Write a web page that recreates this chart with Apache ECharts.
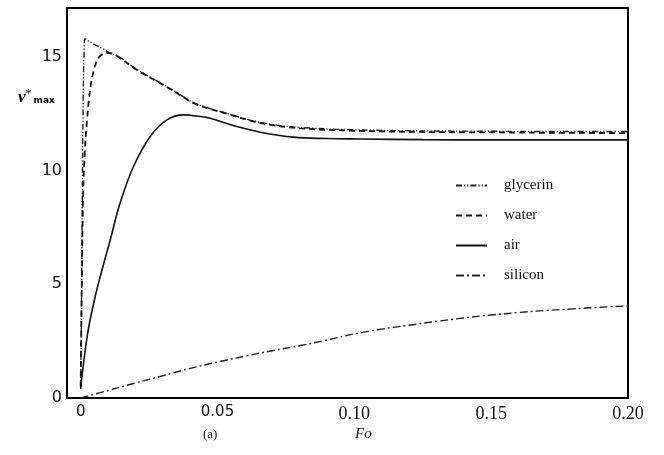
<!DOCTYPE html>
<html><head><meta charset="utf-8">
<script src="https://cdn.jsdelivr.net/npm/echarts@6/dist/echarts.min.js"></script>
<style>html,body{margin:0;padding:0;background:#fff}#c{width:664px;height:455px}</style>
</head><body><div id="c"></div>
<script>
// ---- data ----
const seriesNames = ['glycerin', 'water', 'air', 'silicon'];
const xTickValues = [0, 0.05, 0.10, 0.15, 0.20];
const xTickLabels = ['0', '0.05', '0.10', '0.15', '0.20'];
const yTickValues = [0, 5, 10, 15];

const glycerinFo = [0, 0.0003, 0.0006, 0.0009, 0.0012, 0.0016, 0.0025, 0.004, 0.006, 0.0083, 0.0102, 0.0138, 0.0205, 0.029, 0.036, 0.0412, 0.0475, 0.0534, 0.0619, 0.07, 0.08, 0.0984, 0.1228, 0.15, 0.175, 0.2];
const glycerinV  = [0.4, 4.0, 9.0, 13.0, 15.0, 15.8, 15.72, 15.62, 15.48, 15.35, 15.2, 15.02, 14.45, 13.87, 13.37, 12.99, 12.72, 12.52, 12.22, 12.03, 11.9, 11.8, 11.75, 11.73, 11.72, 11.72];

const waterFo = [0, 0.0004, 0.0009, 0.0015, 0.0023, 0.0035, 0.005, 0.0068, 0.0095, 0.012, 0.0138, 0.0205, 0.029, 0.036, 0.0412, 0.0475, 0.0534, 0.0619, 0.07, 0.08, 0.0984, 0.1228, 0.15, 0.175, 0.2];
const waterV  = [0.5, 5.0, 9.0, 10.8, 12.2, 13.6, 14.5, 15.0, 15.18, 15.12, 15.0, 14.43, 13.85, 13.35, 12.97, 12.7, 12.5, 12.2, 12.0, 11.86, 11.76, 11.7, 11.68, 11.66, 11.65];

const airFo = [0, 0.0025, 0.005, 0.0075, 0.0108, 0.0144, 0.0193, 0.0254, 0.0315, 0.0375, 0.0436, 0.0473, 0.057, 0.0656, 0.0777, 0.09, 0.102, 0.125, 0.15, 0.175, 0.2];
const airV  = [0.45, 2.8, 4.3, 5.5, 6.95, 8.57, 10.18, 11.5, 12.23, 12.45, 12.38, 12.3, 11.94, 11.69, 11.47, 11.41, 11.39, 11.36, 11.35, 11.35, 11.35];

const siliconFo = [0, 0.01, 0.02, 0.03, 0.04, 0.05, 0.06, 0.07, 0.08, 0.09, 0.10, 0.11, 0.12, 0.13, 0.14, 0.15, 0.16, 0.17, 0.18, 0.19, 0.20];
const siliconV  = [0, 0.33, 0.66, 0.98, 1.3, 1.58, 1.84, 2.08, 2.3, 2.55, 2.82, 3.03, 3.2, 3.37, 3.52, 3.65, 3.76, 3.85, 3.92, 3.99, 4.05];

const pairs = (xs, ys) => xs.map((x, i) => [x, ys[i]]);

const chart = echarts.init(document.getElementById('c'), null, {renderer: 'canvas'});
const lineBase = {type: 'line', showSymbol: false, symbol: 'none', smooth: 0.4, z: 3};
chart.setOption({
  animation: false,
  backgroundColor: '#fff',
  grid: {left: 67, right: 36, top: 8, bottom: 57, show: true, borderColor: '#000', borderWidth: 2, backgroundColor: 'transparent'},
  xAxis: {
    type: 'value', min: -0.005, max: 0.2,
    splitLine: {show: false},
    axisLine: {show: true, onZero: false, lineStyle: {color: '#000', width: 2}},
    axisTick: {show: false},
    axisLabel: {
      customValues: xTickValues,
      margin: 7,
      formatter: function (v) {
        const i = xTickValues.findIndex(t => Math.abs(t - v) < 1e-9);
        const s = i >= 0 ? xTickLabels[i] : '';
        return v < 0.075 ? '{s|' + s + '}' : '{r|' + s + '}';
      },
      rich: {
        s: {fontFamily: 'DejaVu Sans', fontSize: 15, color: '#111'},
        r: {fontFamily: 'Liberation Serif', fontSize: 18, color: '#111'}
      }
    }
  },
  yAxis: {
    type: 'value', min: 0, max: 17.15,
    splitLine: {show: false},
    axisLine: {show: true, onZero: false, lineStyle: {color: '#000', width: 2}},
    axisTick: {show: false},
    axisLabel: {customValues: yTickValues, margin: 5, fontFamily: 'DejaVu Sans', fontSize: 16, color: '#111'}
  },
  legend: {
    orient: 'vertical', left: 450, top: 173, itemWidth: 31, itemHeight: 14, itemGap: 15,
    data: seriesNames,
    itemStyle: {opacity: 0},
    textStyle: {fontFamily: 'Liberation Serif', fontSize: 15, color: '#111', padding: [0, 0, 0, 12]}
  },
  series: [
    Object.assign({}, lineBase, {name: 'glycerin', data: pairs(glycerinFo, glycerinV),
      lineStyle: {color: '#222', width: 1.4, type: [6, 2, 1.2, 2, 1.2, 2]}, itemStyle: {color: '#222'}}),
    Object.assign({}, lineBase, {name: 'water', data: pairs(waterFo, waterV),
      lineStyle: {color: '#111', width: 1.8, type: [6, 4]}, itemStyle: {color: '#111'}}),
    Object.assign({}, lineBase, {name: 'air', data: pairs(airFo, airV),
      lineStyle: {color: '#111', width: 1.6, type: 'solid'}, itemStyle: {color: '#111'}}),
    Object.assign({}, lineBase, {name: 'silicon', data: pairs(siliconFo, siliconV),
      lineStyle: {color: '#222', width: 1.4, type: [8, 3, 2, 3]}, itemStyle: {color: '#222'}})
  ],
  graphic: [
    {type: 'text', left: 18, top: 88, style: {
      text: '{v|v}{st|*}{m|max}',
      rich: {
        v: {fontFamily: 'Liberation Serif', fontStyle: 'italic', fontWeight: 'bold', fontSize: 17, color: '#111'},
        st: {fontFamily: 'Liberation Serif', fontSize: 12, color: '#111', verticalAlign: 'top', padding: [0, 0, 8, 0]},
        m: {fontFamily: 'DejaVu Sans', fontWeight: 'bold', fontSize: 9, color: '#111', padding: [6, 0, 0, 2]}
      }}},
    {type: 'text', left: 203, top: 428, style: {text: '(a)', fontFamily: 'Liberation Serif', fontSize: 13, fill: '#111'}},
    {type: 'text', left: 355, top: 427, style: {text: 'Fo', fontFamily: 'Liberation Serif', fontStyle: 'italic', fontSize: 15, fill: '#111'}}
  ]
});
</script></body></html>
